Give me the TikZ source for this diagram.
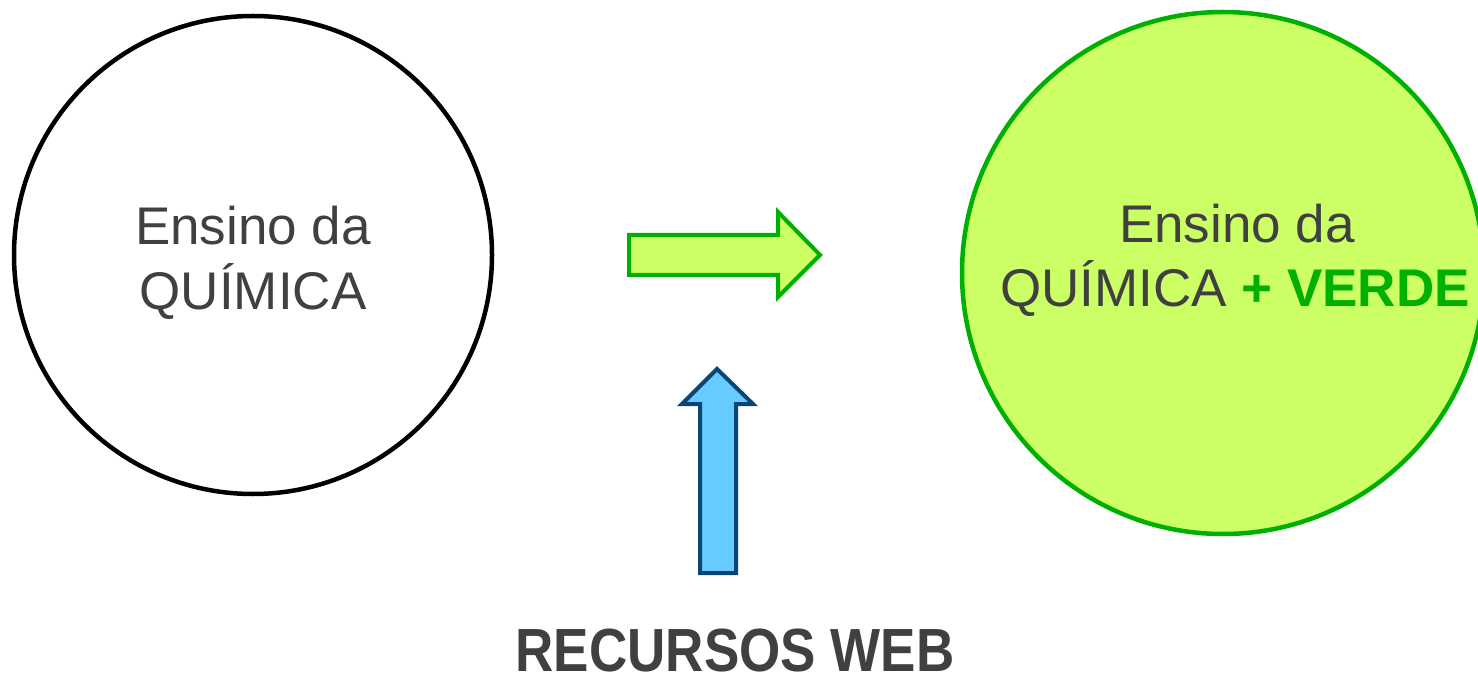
\documentclass[tikz,border=0pt]{standalone}
\usepackage{fontspec}
\setmainfont{Liberation Sans}
\definecolor{txtgray}{HTML}{404040}
\definecolor{vgreen}{HTML}{00B000}
\definecolor{lime}{HTML}{CCFF66}
\definecolor{sky}{HTML}{66CCFF}
\definecolor{navy}{HTML}{0A4675}
\tikzset{
  lbl/.style={font=\fontsize{53}{63}\selectfont, text=txtgray, anchor=base, inner sep=0pt},
  greenarrow/.style={draw=vgreen, fill=lime, line width=4pt, line join=miter},
  bluearrow/.style={draw=navy, fill=sky, line width=4pt, line join=miter},
}
\begin{document}
\begin{tikzpicture}[x=1pt,y=-1pt]
\useasboundingbox (0,0) rectangle (1478,676);
\clip (0,0) rectangle (1478,676);
% circles
\draw[black, line width=4.5pt, fill=white] (253,255) circle (239);
\draw[vgreen, line width=4.5pt, fill=lime] (1223,273) circle (261);
% green arrow
\draw[greenarrow] (629,235) -- (778,235) -- (778,212) -- (820,255) -- (778,297) -- (778,275) -- (629,275) -- cycle;
% blue arrow
\draw[bluearrow] (700,573) -- (700,404) -- (682,404) -- (717,369) -- (753,404) -- (736,404) -- (736,573) -- cycle;
% texts
\node[lbl] (l1) at (253,245) {Ensino da};
\node[lbl] (l2) at (253,309) {QUÍMICA};
\node[lbl] (r1) at (1237,243) {Ensino da};
\node[lbl] (r2) at (1235,307) {QUÍMICA \textcolor{vgreen}{\textbf{+ VERDE}}};
\node[lbl, font=\fontsize{53}{63}\selectfont\bfseries] (web) at (735,671) {\scalebox{1}[1.15]{RECURSOS WEB}};
\end{tikzpicture}
\end{document}
